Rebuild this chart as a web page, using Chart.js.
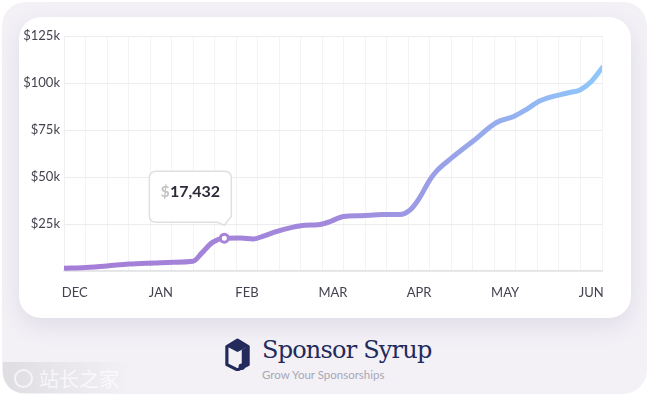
<!DOCTYPE html>
<html>
<head>
<meta charset="utf-8">
<script src="https://cdn.jsdelivr.net/npm/chart.js@4.4.1/dist/chart.umd.min.js"></script>
<style>
  html, body { margin: 0; padding: 0; background: #fff; }
  body { width: 650px; height: 396px; position: relative; overflow: hidden; font-family: Lato, sans-serif; }
  .frame { position: absolute; left: 2px; top: 2px; width: 645px; height: 392px; border-radius: 24px; background: #f3f1f6; }
  .card { position: absolute; left: 19px; top: 17px; width: 612px; height: 301px; border-radius: 22px; background: #fff; box-shadow: 0 8px 22px rgba(110, 90, 150, 0.14); }
  #wrap { position: absolute; left: 19px; top: 17px; width: 612px; height: 301px; }
  .logo-icon { position: absolute; left: 222px; top: 337px; }
  .brand { position: absolute; left: 262px; top: 336px; font-family: "DejaVu Serif", serif; font-size: 24px; color: #232a5c; letter-spacing: -0.8px; white-space: nowrap; }
  .tag { position: absolute; left: 262px; top: 368px; font-size: 11.5px; color: #a8a7b6; white-space: nowrap; }
  .wm { position: absolute; left: 3px; top: 362px; width: 130px; height: 31px; background: linear-gradient(90deg, rgba(150,150,155,0.22), rgba(150,150,155,0.0)); border-bottom-left-radius: 20px; }
  .wm span { position: absolute; left: 36px; top: 2px; font-family: "Noto Sans CJK SC", sans-serif; font-size: 20px; color: rgba(255,255,255,0.7); }
  .wm i { position: absolute; left: 11px; top: 7px; width: 15px; height: 15px; border: 2px solid rgba(255,255,255,0.65); border-radius: 50%; }
</style>
</head>
<body>
<div class="frame"></div>
<div class="card"></div>
<div id="wrap"><canvas id="grafico"></canvas></div>

<svg class="logo-icon" width="31" height="34" viewBox="0 0 28 32">
  <path d="M4 9 L14 3 L24 9 L24 26 L14 31 L4 26 Z" fill="none" stroke="#232a5c" stroke-width="3" stroke-linejoin="round"/>
  <path d="M14 3 L24 9 L14 14 L4 9 Z" fill="#232a5c"/>
  <path d="M18 12 L24 9 L24 26 L18 29 Z" fill="#232a5c"/>
  <circle cx="18" cy="28" r="3" fill="#232a5c"/>
</svg>
<div class="brand">Sponsor Syrup</div>
<div class="tag">Grow Your Sponsorships</div>
<div class="wm"><i></i><span>站长之家</span></div>

<script>
// semanas desde o inicio de dezembro
const semanas = [0, 1, 2, 3, 4.2, 5.1, 6, 6.4, 6.9, 7.45, 8.2, 8.8, 9.2, 9.9, 10.6, 11.2, 11.8, 12.3, 13.0, 13.8, 14.8, 15.6, 16.1, 16.5, 17.0, 17.3, 18.0, 19.0, 20.1, 20.9, 21.5, 22.1, 23.4, 24.0, 24.5, 25.0];
// receita acumulada (US$)
const receita = [1500, 1900, 2700, 3700, 4300, 4700, 5200, 9500, 15200, 17432, 17500, 17000, 18300, 21100, 23200, 24300, 24600, 26000, 29000, 29400, 30000, 30000, 32600, 38500, 48500, 53000, 60000, 69000, 79000, 82200, 86000, 90400, 94700, 96400, 100800, 108000];

const meses = ['DEC', 'JAN', 'FEB', 'MAR', 'APR', 'MAY', 'JUN'];
const posMeses = [0.5, 4.5, 8.5, 12.5, 16.5, 20.5, 24.5];
const yTicks = [0, 25000, 50000, 75000, 100000, 125000];

const destaque = receita.indexOf(17432);

const calloutPlugin = {
    id: 'callout',
    afterDatasetsDraw(chart) {
        const pt = chart.getDatasetMeta(0).data[destaque];
        if (!pt) return;
        const c = chart.ctx;
        const px = pt.x, py = pt.y;
        const L = px - 75, R = px + 7, T = py - 67, B = py - 16, r = 7;
        c.save();
        c.beginPath();
        c.moveTo(L + r, T);
        c.lineTo(R - r, T);
        c.quadraticCurveTo(R, T, R, T + r);
        c.lineTo(R, B - 6);
        c.lineTo(px, py - 13);
        c.lineTo(px - 7, B);
        c.lineTo(L + r, B);
        c.quadraticCurveTo(L, B, L, B - r);
        c.lineTo(L, T + r);
        c.quadraticCurveTo(L, T, L + r, T);
        c.closePath();
        c.fillStyle = '#fff';
        c.fill();
        c.lineWidth = 1.5;
        c.strokeStyle = '#e0e0e2';
        c.stroke();

        const valor = receita[destaque].toLocaleString('en-US');
        c.font = 'bold 16px Lato';
        const w1 = c.measureText('$').width;
        const w2 = c.measureText(valor).width;
        const x0 = (L + R) / 2 - (w1 + w2) / 2;
        c.textBaseline = 'alphabetic';
        c.fillStyle = '#c4c4c8';
        c.fillText('$', x0, py - 41);
        c.fillStyle = '#2b2b3a';
        c.fillText(valor, x0 + w1, py - 41);
        c.restore();
    }
};

const ctx = document.getElementById('grafico').getContext('2d');

let grafico = new Chart(ctx, {
    type: 'line',
    data: {
        datasets: [{
            label: 'Receita',
            data: semanas.map((s, i) => ({ x: s, y: receita[i] })),
            borderColor: (context) => {
                const { chart } = context;
                const area = chart.chartArea;
                if (!area) return '#a57fd7';
                const g = chart.ctx.createLinearGradient(area.left, 0, area.right, 0);
                g.addColorStop(0, '#a57dd7');
                g.addColorStop(0.5, '#a189dc');
                g.addColorStop(0.75, '#98a6ea');
                g.addColorStop(1, '#8ec8fb');
                return g;
            },
            borderWidth: 5,
            borderCapStyle: 'round',
            borderJoinStyle: 'round',
            cubicInterpolationMode: 'monotone',
            fill: false,
            pointRadius: (c) => c.dataIndex === destaque ? 4 : 0,
            pointHoverRadius: 0,
            pointBackgroundColor: '#fff',
            pointBorderColor: '#a881d9',
            pointBorderWidth: 3
        }]
    },
    options: {
        responsive: true,
        maintainAspectRatio: false,
        animation: false,
        events: [],
        layout: { padding: { top: 19, right: 29, bottom: 4, left: 0 } },
        plugins: {
            legend: { display: false },
            tooltip: { enabled: false }
        },
        scales: {
            x: {
                type: 'linear',
                min: 0,
                max: 25,
                afterBuildTicks: (axis) => {
                    const t = [];
                    for (let v = 0; v <= 25; v += 0.5) t.push({ value: v });
                    axis.ticks = t;
                },
                afterFit: (s) => { s.height = 43; },
                ticks: {
                    autoSkip: false,
                    maxRotation: 0,
                    padding: 14,
                    color: '#43434f',
                    font: { family: 'Lato', size: 13 },
                    callback: (v) => {
                        const i = posMeses.indexOf(v);
                        return i >= 0 ? meses[i] : '';
                    }
                },
                grid: {
                    drawTicks: false,
                    color: (c) => (c.tick && Number.isInteger(c.tick.value)) ? '#f3f3f5' : 'rgba(0,0,0,0)'
                },
                border: { color: '#e4e4e6', width: 1.5 }
            },
            y: {
                min: 0,
                max: 125000,
                afterBuildTicks: (axis) => { axis.ticks = yTicks.map(v => ({ value: v })); },
                afterFit: (s) => { s.width = 45; },
                ticks: {
                    padding: 4,
                    color: '#43434f',
                    font: { family: 'Lato', size: 13 },
                    callback: (v) => v === 0 ? '' : '$' + (v / 1000) + 'k'
                },
                grid: { drawTicks: false, color: '#ececee' },
                border: { color: '#efeff1' }
            }
        }
    },
    plugins: [calloutPlugin]
});
</script>
</body>
</html>
